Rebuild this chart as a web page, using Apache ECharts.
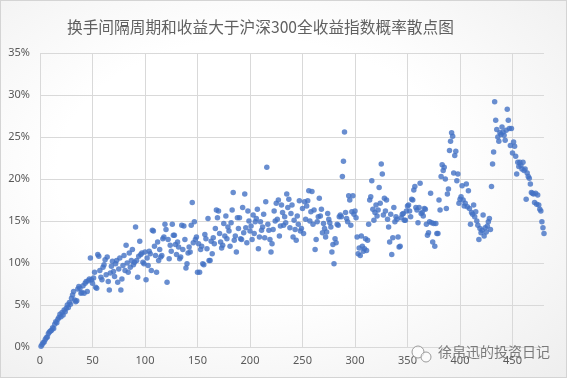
<!DOCTYPE html>
<html>
<head>
<meta charset="utf-8">
<script src="https://cdn.jsdelivr.net/npm/echarts@6/dist/echarts.min.js"></script>
<style>
  html, body { margin: 0; padding: 0; }
  #chart {
    width: 565px;
    height: 376px;
    border: 1px solid #d4d4d4;
    background: radial-gradient(ellipse at 45% 45%, #ffffff 45%, #eeeeee 100%);
  }
</style>
</head>
<body>
<div id="chart"></div>
<script>
// probability (%) that holding with a given turnover interval beats the CSI300 total return index
// interval in days = position in the list (1..480)
const prob001to100 = [
  0.1, 0.3, 0.5, 0.6, 0.9, 1.1, 1.2, 1.6, 1.8, 1.9,
  2.0, 2.3, 2.2, 2.7, 3.0, 2.9, 3.3, 3.5, 3.9, 3.6,
  4.1, 3.8, 4.4, 4.2, 4.6, 5.0, 4.7, 5.3, 5.1, 5.8,
  6.2, 6.6, 5.6, 5.4, 5.5, 6.9, 7.2, 7.0, 6.4, 6.5,
  7.3, 6.4, 7.6, 7.8, 6.6, 7.9, 8.1, 10.6, 8.0, 7.6,
  8.2, 8.9, 7.1, 7.0, 11.0, 10.8, 9.1, 8.3, 8.0, 9.5,
  9.8, 10.4, 8.6, 10.7, 7.8, 6.8, 8.8, 9.6, 10.2, 9.0,
  8.4, 9.9, 10.3, 7.7, 9.3, 10.6, 6.8, 8.1, 9.7, 10.9,
  9.1, 12.1, 10.0, 8.9, 11.2, 9.5, 10.3, 11.6, 9.8, 10.1,
  14.3, 10.3, 8.3, 10.8, 12.6, 11.0, 11.2, 10.1, 9.9, 11.3
]
const prob101to200 = [
  8.0, 10.6, 9.7, 11.4, 11.1, 9.1, 13.9, 13.8, 12.0, 10.9,
  8.9, 12.5, 10.3, 11.6, 10.7, 10.9, 12.9, 13.1, 14.6, 14.0,
  7.7, 12.8, 10.5, 12.1, 11.4, 14.6, 13.3, 13.3, 12.2, 11.0,
  12.5, 11.9, 10.5, 10.7, 14.5, 11.6, 14.4, 12.8, 9.4, 9.9,
  11.2, 11.9, 11.3, 14.5, 17.2, 12.4, 14.9, 12.8, 13.1, 8.9,
  12.3, 8.9, 11.6, 12.0, 9.9, 9.8, 13.4, 12.9, 11.7, 15.3,
  10.3, 10.3, 12.6, 11.1, 13.0, 12.3, 14.1, 16.3, 15.4, 16.2,
  13.5, 12.5, 11.8, 12.1, 14.7, 13.2, 15.6, 12.9, 14.3, 13.8,
  12.0, 14.8, 16.3, 18.4, 12.7, 13.2, 11.3, 15.4, 14.1, 15.4,
  12.9, 12.8, 16.6, 13.6, 18.2, 14.2, 12.4, 16.2, 15.0, 13.8
]
const prob201to300 = [
  14.4, 12.8, 15.7, 13.5, 14.9, 15.3, 16.4, 11.7, 13.1, 14.9,
  13.9, 14.3, 15.8, 13.0, 17.3, 21.4, 14.6, 13.9, 12.8, 11.3,
  12.3, 14.0, 16.2, 15.0, 17.1, 15.2, 17.5, 13.2, 14.4, 16.9,
  16.0, 14.5, 15.5, 14.8, 18.2, 16.6, 17.6, 14.2, 15.9, 16.9,
  13.1, 15.1, 14.0, 12.7, 15.6, 14.6, 17.4, 13.8, 14.1, 16.5,
  13.5, 17.3, 15.2, 16.8, 17.4, 18.6, 15.0, 16.1, 18.5, 14.6,
  16.3, 11.6, 12.8, 14.9, 15.5, 17.7, 15.6, 16.4, 13.6, 14.7,
  14.1, 13.1, 13.7, 15.9, 15.2, 14.8, 14.3, 11.3, 12.2, 9.9,
  12.9, 12.4, 14.6, 14.5, 15.5, 15.7, 15.5, 20.3, 22.1, 25.6,
  16.0, 15.3, 14.9, 18.0, 17.5, 14.5, 16.1, 18.0, 15.8, 16.2
]
const prob301to400 = [
  15.4, 13.1, 11.1, 11.8, 10.9, 13.2, 12.0, 11.4, 11.7, 12.9,
  11.5, 12.7, 14.6, 17.5, 17.9, 19.8, 16.4, 15.1, 16.0, 16.9,
  15.6, 16.3, 19.0, 17.1, 21.8, 20.6, 15.7, 17.7, 16.2, 17.5,
  15.2, 14.3, 12.5, 15.8, 11.0, 13.0, 16.6, 14.9, 15.5, 15.2,
  13.1, 11.9, 12.0, 15.4, 15.8, 15.9, 15.1, 15.1, 16.2, 16.8,
  16.9, 16.2, 15.5, 17.6, 17.5, 18.7, 19.1, 16.6, 16.3, 14.8,
  16.6, 19.5, 15.9, 16.0, 15.6, 16.5, 16.4, 14.6, 13.3, 13.6,
  14.9, 18.3, 14.8, 12.5, 14.7, 12.0, 14.7, 13.5, 13.5, 17.5,
  16.3, 20.3, 21.7, 21.0, 21.4, 20.0, 16.5, 18.2, 18.8, 23.4,
  24.5, 25.5, 25.1, 20.7, 22.8, 23.3, 19.8, 20.6, 17.1, 17.6
]
const prob401to480 = [
  17.9, 19.2, 17.5, 16.8, 17.1, 19.4, 16.7, 18.6, 16.5, 14.6,
  16.0, 15.8, 16.9, 15.5, 16.1, 15.0, 14.5, 12.8, 14.1, 13.6,
  13.9, 15.7, 13.2, 14.2, 13.7, 14.4, 14.9, 15.3, 14.0, 19.1,
  21.8, 23.2, 29.2, 27.0, 25.9, 25.0, 24.5, 25.5, 25.3, 26.2,
  25.6, 25.2, 24.6, 25.8, 28.3, 27.0, 26.0, 24.0, 26.0, 23.1,
  24.4, 23.9, 22.7, 20.6, 22.0, 21.5, 22.0, 21.6, 21.2, 22.0,
  21.0, 21.2, 17.6, 20.7, 20.3, 20.1, 19.4, 18.4, 18.3, 18.2,
  17.2, 18.3, 17.0, 18.1, 16.9, 16.4, 16.2, 14.9, 14.2, 13.5
]
const yTicks = [0, 5, 10, 15, 20, 25, 30, 35]
const xTicks = [0, 50, 100, 150, 200, 250, 300, 350, 400, 450]

const allProb = [].concat(prob001to100, prob101to200, prob201to300, prob301to400, prob401to480)
const points = allProb.map((v, i) => [i + 1, v])

const labelColor = '#595959'
const gridColor = '#d9d9d9'

const chart = echarts.init(document.getElementById('chart'), null, { renderer: 'canvas' })

chart.setOption({
  animation: false,
  backgroundColor: 'transparent',
  title: {
    text: '换手间隔周期和收益大于沪深300全收益指数概率散点图',
    left: 61,
    top: 13,
    textStyle: {
      color: '#606060',
      fontSize: 15.7,
      fontWeight: 'normal',
      fontFamily: 'Noto Sans CJK SC'
    }
  },
  grid: {
    left: 39,
    right: 22,
    top: 52,
    bottom: 30
  },
  xAxis: {
    type: 'value',
    min: xTicks[0],
    max: 480,
    interval: 50,
    axisLine: { show: false },
    axisTick: { show: false },
    axisLabel: {
      color: labelColor,
      fontSize: 11,
      fontFamily: 'Noto Sans',
      margin: 8,
      showMaxLabel: false
    },
    splitLine: {
      show: true,
      showMaxLine: false,
      lineStyle: { color: gridColor, width: 1 }
    }
  },
  yAxis: {
    type: 'value',
    min: yTicks[0],
    max: yTicks[yTicks.length - 1],
    interval: 5,
    axisLine: { show: false },
    axisTick: { show: false },
    axisLabel: {
      color: labelColor,
      fontSize: 11,
      fontFamily: 'Noto Sans',
      margin: 10,
      formatter: v => v + '%'
    },
    splitLine: {
      lineStyle: { color: gridColor, width: 1 }
    }
  },
  graphic: [
    {
      type: 'circle',
      shape: { cx: 417, cy: 351, r: 6 },
      style: { fill: 'rgba(255,255,255,0.6)', stroke: '#9a9a9a', lineWidth: 1 },
      z: 100
    },
    {
      type: 'circle',
      shape: { cx: 425, cy: 356, r: 5 },
      style: { fill: 'rgba(255,255,255,0.6)', stroke: '#9a9a9a', lineWidth: 1 },
      z: 100
    },
    {
      type: 'text',
      left: 437,
      top: 344,
      style: {
        text: '徐帛迅的投资日记',
        fill: '#7a7a7a',
        fontSize: 14,
        fontFamily: 'Noto Sans CJK SC'
      },
      z: 100
    }
  ],
  series: [
    {
      type: 'scatter',
      data: points,
      symbolSize: 5.5,
      itemStyle: { color: '#4472C4' }
    }
  ]
})
</script>
</body>
</html>
